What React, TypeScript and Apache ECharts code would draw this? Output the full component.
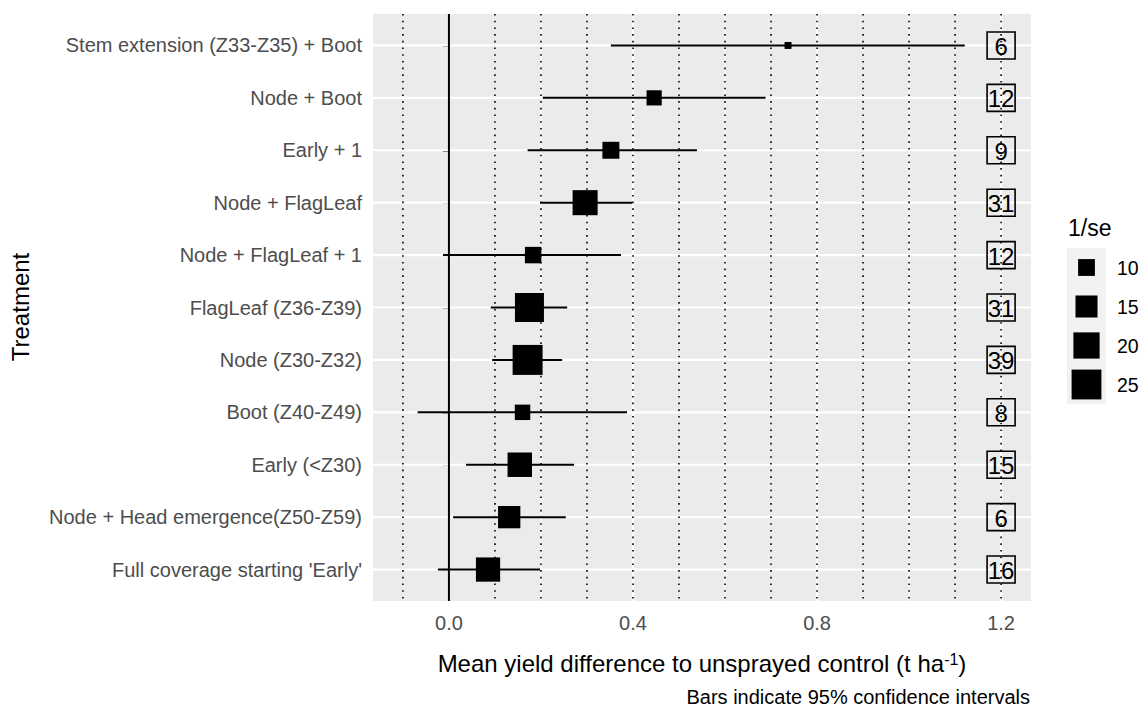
import React, { useEffect, useRef } from "react";
import * as echarts from "echarts";

const treatments = [
  "Stem extension (Z33-Z35) + Boot",
  "Node + Boot",
  "Early + 1",
  "Node + FlagLeaf",
  "Node + FlagLeaf + 1",
  "FlagLeaf (Z36-Z39)",
  "Node (Z30-Z32)",
  "Boot (Z40-Z49)",
  "Early (<Z30)",
  "Node + Head emergence(Z50-Z59)",
  "Full coverage starting 'Early'",
];
const meanDiff = [0.737, 0.446, 0.352, 0.296, 0.183, 0.175, 0.171, 0.16, 0.154, 0.131, 0.085];
const ciLow = [0.352, 0.204, 0.171, 0.198, -0.013, 0.091, 0.094, -0.068, 0.037, 0.009, -0.024];
const ciHigh = [1.121, 0.688, 0.539, 0.398, 0.374, 0.257, 0.246, 0.387, 0.272, 0.254, 0.198];
const invSe = [4.2, 8.7, 10.1, 18.5, 9.7, 23.8, 25.2, 8.9, 17.8, 15.3, 17.5];
const nTrials = [6, 12, 9, 31, 12, 31, 39, 8, 15, 6, 16];
const xTicks = [0, 0.4, 0.8, 1.2];
const minorGrid = [0.2, 0.6, 1.0];
const dottedRefs = [-0.1, 0.1, 0.2, 0.3, 0.4, 0.5, 0.6, 0.7, 0.8, 0.9, 1.0, 1.1, 1.2];
const zeroRef = [0];
const legendBreaks = [10, 15, 20, 25];
const labelX = 1.2;

const FONT = "'Liberation Sans', Arial, sans-serif";
const sizeOf = (v: number) => 6.36 * Math.sqrt(Math.max(v - 3, 0));

const GRID = { left: 373, top: 14, width: 658, height: 587 };

function vLineSeries(name: string, vals: number[], style: any, z: number) {
  return {
    type: "custom",
    name,
    z,
    silent: true,
    data: vals.map((v) => [v, 0]),
    encode: { x: 0, y: 1 },
    renderItem: (params: any, api: any) => {
      const p = api.coord([api.value(0), 0]);
      const cs = params.coordSys;
      return {
        type: "line",
        shape: { x1: p[0], y1: cs.y, x2: p[0], y2: cs.y + cs.height },
        style,
      };
    },
  };
}

export default function App() {
  const ref = useRef<HTMLDivElement>(null);
  useEffect(() => {
    document.body.style.margin = "0";
    if (!ref.current) return;
    const chart = echarts.init(ref.current, undefined, { renderer: "svg" });
    const yIdx = treatments.map((_, i) => i);

    const legendItems: any[] = [];
    const keyTop = 248;
    const keyH = 39;
    legendItems.push({
      type: "rect",
      shape: { x: 1067, y: keyTop, width: 39, height: keyH * legendBreaks.length },
      style: { fill: "#F2F2F2" },
      silent: true,
    });
    legendBreaks.forEach((b, i) => {
      const cy = keyTop + keyH * (i + 0.5);
      const s = sizeOf(b);
      legendItems.push({
        type: "rect",
        shape: { x: 1086.5 - s / 2, y: cy - s / 2, width: s, height: s },
        style: { fill: "#000" },
        silent: true,
      });
      legendItems.push({
        type: "text",
        x: 1117,
        y: cy,
        style: {
          text: String(b),
          font: `19.5px ${FONT}`,
          fill: "#000",
          textAlign: "left",
          textVerticalAlign: "middle",
        },
        silent: true,
      });
    });

    chart.setOption({
      animation: false,
      backgroundColor: "#FFFFFF",
      grid: {
        left: GRID.left,
        top: GRID.top,
        width: GRID.width,
        height: GRID.height,
        show: true,
        backgroundColor: "#EBEBEB",
        borderWidth: 0,
        containLabel: false,
      },
      xAxis: {
        type: "value",
        min: -0.165,
        max: 1.265,
        axisLine: { show: false },
        splitLine: { show: false },
        axisTick: {
          show: true,
          customValues: xTicks,
          length: 6,
          lineStyle: { color: "#333333", width: 1.5 },
        },
        axisLabel: {
          customValues: xTicks,
          formatter: (v: number) => v.toFixed(1),
          color: "#4D4D4D",
          fontSize: 20,
          fontFamily: FONT,
          margin: 12,
        },
      },
      yAxis: {
        type: "value",
        min: -0.6,
        max: 10.6,
        inverse: true,
        axisLine: { show: false },
        splitLine: { show: false },
        axisTick: {
          show: true,
          customValues: yIdx,
          length: 6,
          lineStyle: { color: "#333333", width: 1.5 },
        },
        axisLabel: {
          customValues: yIdx,
          formatter: (v: number) => treatments[Math.round(v)] ?? "",
          color: "#4D4D4D",
          fontSize: 20,
          fontFamily: FONT,
          margin: 11,
        },
      },
      series: [
        vLineSeries("minor", minorGrid, { stroke: "#FFFFFF", lineWidth: 1.1 }, 1),
        vLineSeries("major", xTicks, { stroke: "#FFFFFF", lineWidth: 2.2 }, 1),
        {
          type: "custom",
          name: "hgrid",
          z: 1,
          silent: true,
          data: yIdx.map((i) => [0, i]),
          encode: { x: 0, y: 1 },
          renderItem: (params: any, api: any) => {
            const p = api.coord([0, api.value(1)]);
            const cs = params.coordSys;
            return {
              type: "line",
              shape: { x1: cs.x, y1: p[1], x2: cs.x + cs.width, y2: p[1] },
              style: { stroke: "#FFFFFF", lineWidth: 2.2 },
            };
          },
        },
        vLineSeries(
          "dotted",
          dottedRefs,
          { stroke: "#000000", lineWidth: 1.6, lineDash: [1.6, 5.1], lineCap: "butt" },
          2
        ),
        vLineSeries("zero", zeroRef, { stroke: "#000000", lineWidth: 2 }, 3),
        {
          type: "custom",
          name: "ci",
          z: 4,
          silent: true,
          data: yIdx.map((i) => [ciLow[i], ciHigh[i], i]),
          encode: { x: [0, 1], y: 2 },
          renderItem: (params: any, api: any) => {
            const a = api.coord([api.value(0), api.value(2)]);
            const b = api.coord([api.value(1), api.value(2)]);
            return {
              type: "line",
              shape: { x1: a[0], y1: a[1], x2: b[0], y2: b[1] },
              style: { stroke: "#000000", lineWidth: 2 },
            };
          },
        },
        {
          type: "scatter",
          name: "mean",
          z: 5,
          silent: true,
          symbol: "rect",
          data: yIdx.map((i) => [meanDiff[i], i, invSe[i]]),
          symbolSize: (val: number[]) => sizeOf(val[2]),
          itemStyle: { color: "#000000", opacity: 1 },
        },
        {
          type: "custom",
          name: "n",
          z: 6,
          silent: true,
          data: yIdx.map((i) => [labelX, i, nTrials[i]]),
          encode: { x: 0, y: 1 },
          renderItem: (params: any, api: any) => {
            const p = api.coord([api.value(0), api.value(1)]);
            const w = 28;
            const h = 27;
            return {
              type: "group",
              children: [
                {
                  type: "rect",
                  shape: { x: p[0] - w / 2, y: p[1] - h / 2, width: w, height: h },
                  style: { fill: "none", stroke: "#000000", lineWidth: 1.6 },
                },
                {
                  type: "text",
                  x: p[0],
                  y: p[1] + 1,
                  style: {
                    text: String(api.value(2)),
                    font: `24px ${FONT}`,
                    fill: "#000000",
                    textAlign: "center",
                    textVerticalAlign: "middle",
                  },
                },
              ],
            };
          },
        },
      ],
      graphic: [
        {
          type: "text",
          x: 20,
          y: 307,
          rotation: Math.PI / 2,
          style: {
            text: "Treatment",
            font: `24px ${FONT}`,
            fill: "#000",
            textAlign: "center",
            textVerticalAlign: "middle",
          },
          silent: true,
        },
        {
          type: "text",
          x: 702,
          y: 663,
          style: {
            text: "Mean yield difference to unsprayed control (t ha{sup|-1}{m|)}",
            font: `24px ${FONT}`,
            fill: "#000",
            textAlign: "center",
            textVerticalAlign: "middle",
            rich: {
              sup: { fontSize: 16, fontFamily: FONT, verticalAlign: "top", lineHeight: 16, fill: "#000" },
              m: { fontSize: 24, fontFamily: FONT, fill: "#000" },
            },
          },
          silent: true,
        },
        {
          type: "text",
          x: 1030,
          y: 697,
          style: {
            text: "Bars indicate 95% confidence intervals",
            font: `20px ${FONT}`,
            fill: "#000",
            textAlign: "right",
            textVerticalAlign: "middle",
          },
          silent: true,
        },
        {
          type: "text",
          x: 1068,
          y: 228,
          style: {
            text: "1/se",
            font: `23px ${FONT}`,
            fill: "#000",
            textAlign: "left",
            textVerticalAlign: "middle",
          },
          silent: true,
        },
        ...legendItems,
      ],
    });
    return () => chart.dispose();
  }, []);
  return <div ref={ref} style={{ width: 1144, height: 711 }} />;
}
